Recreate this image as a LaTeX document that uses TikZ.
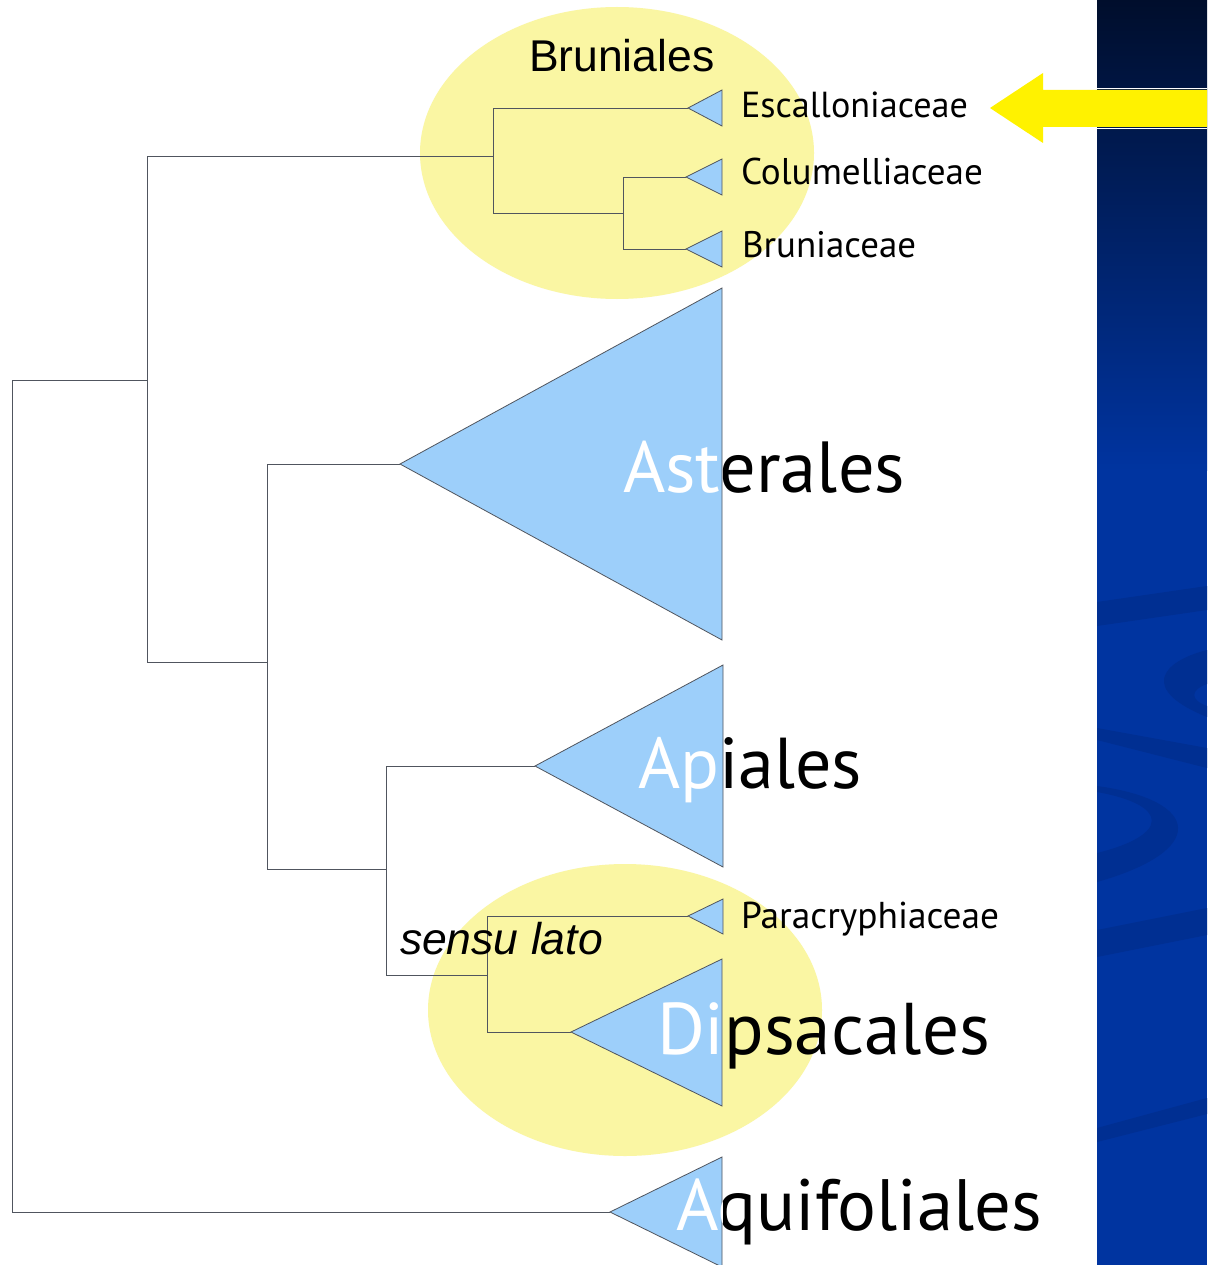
\documentclass[tikz,border=0pt]{standalone}
\usepackage{fontspec}
\setmainfont{PT Sans}
\newfontfamily\arialf{Liberation Sans}
\usepackage{graphicx}
\definecolor{ell}{HTML}{FAF6A3}
\definecolor{tri}{HTML}{9DCFFA}
\definecolor{edgec}{HTML}{50555E}
\definecolor{navtop}{HTML}{000E2C}
\definecolor{navbot}{HTML}{0034A0}
\definecolor{swoosh}{HTML}{002F92}
\newcommand{\fitw}[2]{\resizebox{#1}{!}{#2}}
\begin{document}
\begin{tikzpicture}[x=1pt,y=-1pt,
  branch/.style={draw=edgec, line width=0.9pt},
  clade/.style={fill=tri, draw=edgec, line width=0.8pt, line join=miter},
  taxon/.style={inner sep=0pt, outer sep=0pt, anchor=base west, text=black},
  whitetaxon/.style={taxon, text=white},
  group/.style={inner sep=0pt, outer sep=0pt, anchor=base west, font=\arialf\fontsize{44.5}{50}\selectfont}]
\useasboundingbox (0,0) rectangle (1207,1265);
\fill[white] (0,0) rectangle (1207,1265);
% right panel
\fill[navbot] (1097,0) rectangle (1207,1265);
\shade[top color=navtop, bottom color=navbot] (1097,0) rectangle (1207,470);
\fill[swoosh] (1097,602) -- (1207,586) -- (1207,610) -- (1097,626) -- cycle;
\fill[swoosh] (1207,650) .. controls (1160,662) and (1140,690) .. (1207,717) -- (1207,706) .. controls (1190,700) and (1190,690) .. (1207,684) -- cycle;
\fill[swoosh] (1097,728) -- (1207,748) -- (1207,768) -- (1097,740) -- cycle;
\fill[swoosh] (1097,786) .. controls (1200,800) and (1210,850) .. (1097,882) -- (1097,853) .. controls (1170,835) and (1170,805) .. (1097,792) -- cycle;
\fill[swoosh] (1097,930) -- (1207,908) -- (1207,935) -- (1097,957) -- cycle;
\fill[swoosh] (1097,1128) -- (1207,1098) -- (1207,1114) -- (1097,1142) -- cycle;
% arrow
\draw[white, line width=1.2pt] (1097,88.5) -- (1207,88.5) (1097,128.5) -- (1207,128.5);
\fill[yellow] (990,108) -- (1043,73) -- (1043,90) -- (1207,90) -- (1207,127) -- (1043,127) -- (1043,143) -- cycle;
% ellipses
\fill[ell] (617,153) ellipse [x radius=197pt, y radius=146pt];
\fill[ell] (625,1010) ellipse [x radius=197pt, y radius=146pt];
% tree coordinates
\coordinate (R) at (12,380);
\coordinate (N1) at (147,380);
\coordinate (Br) at (493,156);
\coordinate (N5) at (623,213);
\coordinate (N2) at (267,662);
\coordinate (N3) at (386,869);
\coordinate (N4) at (487,975);
\coordinate (Esc) at (688,108);
\coordinate (Col) at (686,177);
\coordinate (Bru) at (686,249);
\coordinate (Ast) at (400,464);
\coordinate (Api) at (535,766);
\coordinate (Par) at (688,916);
\coordinate (Dip) at (571,1032);
\coordinate (Aq) at (610,1212);
% branches
\draw[branch] (R) |- (N1);
\draw[branch] (R) |- (Aq);
\draw[branch] (N1) |- (Br);
\draw[branch] (N1) |- (N2);
\draw[branch] (Br) |- (Esc);
\draw[branch] (Br) |- (N5);
\draw[branch] (N5) |- (Col);
\draw[branch] (N5) |- (Bru);
\draw[branch] (N2) |- (Ast);
\draw[branch] (N2) |- (N3);
\draw[branch] (N3) |- (Api);
\draw[branch] (N3) |- (N4);
\draw[branch] (N4) |- (Par);
\draw[branch] (N4) |- (Dip);
% clades
\path[clade] (Esc) -- (722,90) -- (722,126) -- cycle;
\path[clade] (Col) -- (722,159) -- (722,195) -- cycle;
\path[clade] (Bru) -- (722,231) -- (722,267) -- cycle;
\path[clade] (Ast) -- (722,288) -- (722,640) -- cycle;
\path[clade] (Api) -- (723,665) -- (723,867) -- cycle;
\path[clade] (Par) -- (723,899) -- (723,934) -- cycle;
\path[clade] (Dip) -- (722,959) -- (722,1106) -- cycle;
\path[clade] (Aq) -- (722,1157) -- (722,1267) -- cycle;
% group labels
\node[group] (bruniales) at (529,72) {Bruniales};
\node[group, font=\arialf\itshape\fontsize{44.5}{50}\selectfont] (sensu) at (400,954) {sensu lato};
% small taxa
\node[taxon] (escL) at (741,118) {\fitw{227pt}{Escalloniaceae}};
\node[taxon] (colL) at (741,185) {\fitw{242pt}{Columelliaceae}};
\node[taxon] (bruL) at (742,257) {\fitw{174pt}{Bruniaceae}};
\node[taxon] (parL) at (741,928) {\fitw{258pt}{Paracryphiaceae}};
% big taxa, black part (outside triangles)
\begin{scope}[even odd rule]
\clip (0,0) rectangle (1207,1265)
  (Ast) -- (722,288) -- (722,640) -- cycle
  (Api) -- (723,665) -- (723,867) -- cycle
  (Dip) -- (722,959) -- (722,1106) -- cycle
  (Aq) -- (722,1157) -- (722,1267) -- cycle;
\node[taxon] (astL) at (623,492) {\fitw{282pt}{Asterales}};
\node[taxon] (apiL) at (638,788) {\fitw{224pt}{Apiales}};
\node[taxon] (dipL) at (657,1054) {\fitw{333pt}{Dipsacales}};
\node[taxon] (aqL) at (676,1230) {\fitw{366pt}{Aquifoliales}};
\end{scope}
% big taxa, white part inside triangles
\begin{scope}
\clip (Ast) -- (722,288) -- (722,640) -- cycle;
\node[whitetaxon] (astW) at (623,492) {\fitw{282pt}{Asterales}};
\end{scope}
\begin{scope}
\clip (Api) -- (723,665) -- (723,867) -- cycle;
\node[whitetaxon] (apiW) at (638,788) {\fitw{224pt}{Apiales}};
\end{scope}
\begin{scope}
\clip (Dip) -- (722,959) -- (722,1106) -- cycle;
\node[whitetaxon] (dipW) at (657,1054) {\fitw{333pt}{Dipsacales}};
\end{scope}
\begin{scope}
\clip (Aq) -- (722,1157) -- (722,1267) -- cycle;
\node[whitetaxon] (aqW) at (676,1230) {\fitw{366pt}{Aquifoliales}};
\end{scope}
\end{tikzpicture}
\end{document}
